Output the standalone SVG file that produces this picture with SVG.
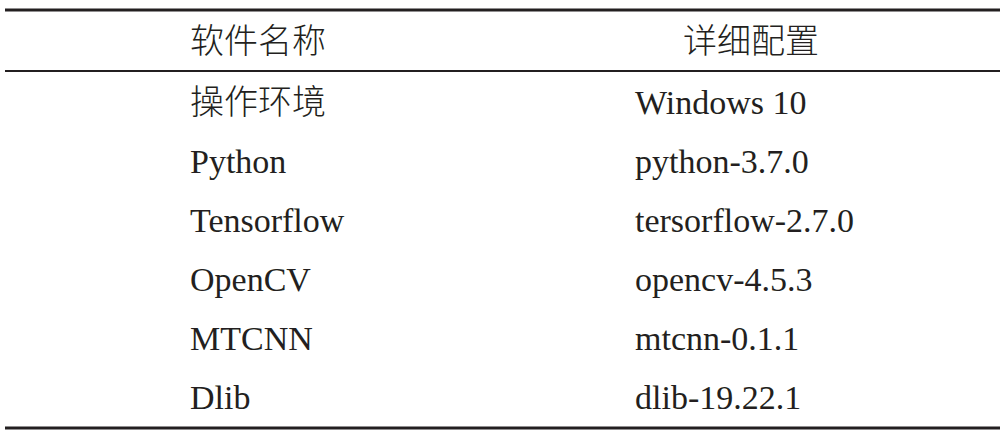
<svg xmlns="http://www.w3.org/2000/svg" width="1005" height="438" viewBox="0 0 1005 438">
<style>
text{font-family:"Liberation Serif","Noto Sans CJK SC",serif;font-size:34px;fill:#231f20}
.cjk{font-family:"Noto Sans CJK SC",sans-serif;font-size:34px;font-weight:300}
line{stroke:#231f20}
</style>
<rect width="1005" height="438" fill="#fff"/>
<line x1="5" y1="10" x2="1000" y2="10" stroke-width="3"/>
<line x1="5" y1="71" x2="1000" y2="71" stroke-width="2"/>
<line x1="5" y1="428" x2="1000" y2="428" stroke-width="3"/>
<text class="cjk" x="190" y="53">软件名称</text>
<text class="cjk" x="683" y="53">详细配置</text>
<text class="cjk" x="190" y="114">操作环境</text>
<text x="635" y="114">Windows 10</text>
<text x="190" y="173">Python</text>
<text x="635" y="173">python-3.7.0</text>
<text x="190" y="232">Tensorflow</text>
<text x="635" y="232">tersorflow-2.7.0</text>
<text x="190" y="291">OpenCV</text>
<text x="635" y="291">opencv-4.5.3</text>
<text x="190" y="350">MTCNN</text>
<text x="635" y="350">mtcnn-0.1.1</text>
<text x="190" y="409">Dlib</text>
<text x="635" y="409">dlib-19.22.1</text>
</svg>
